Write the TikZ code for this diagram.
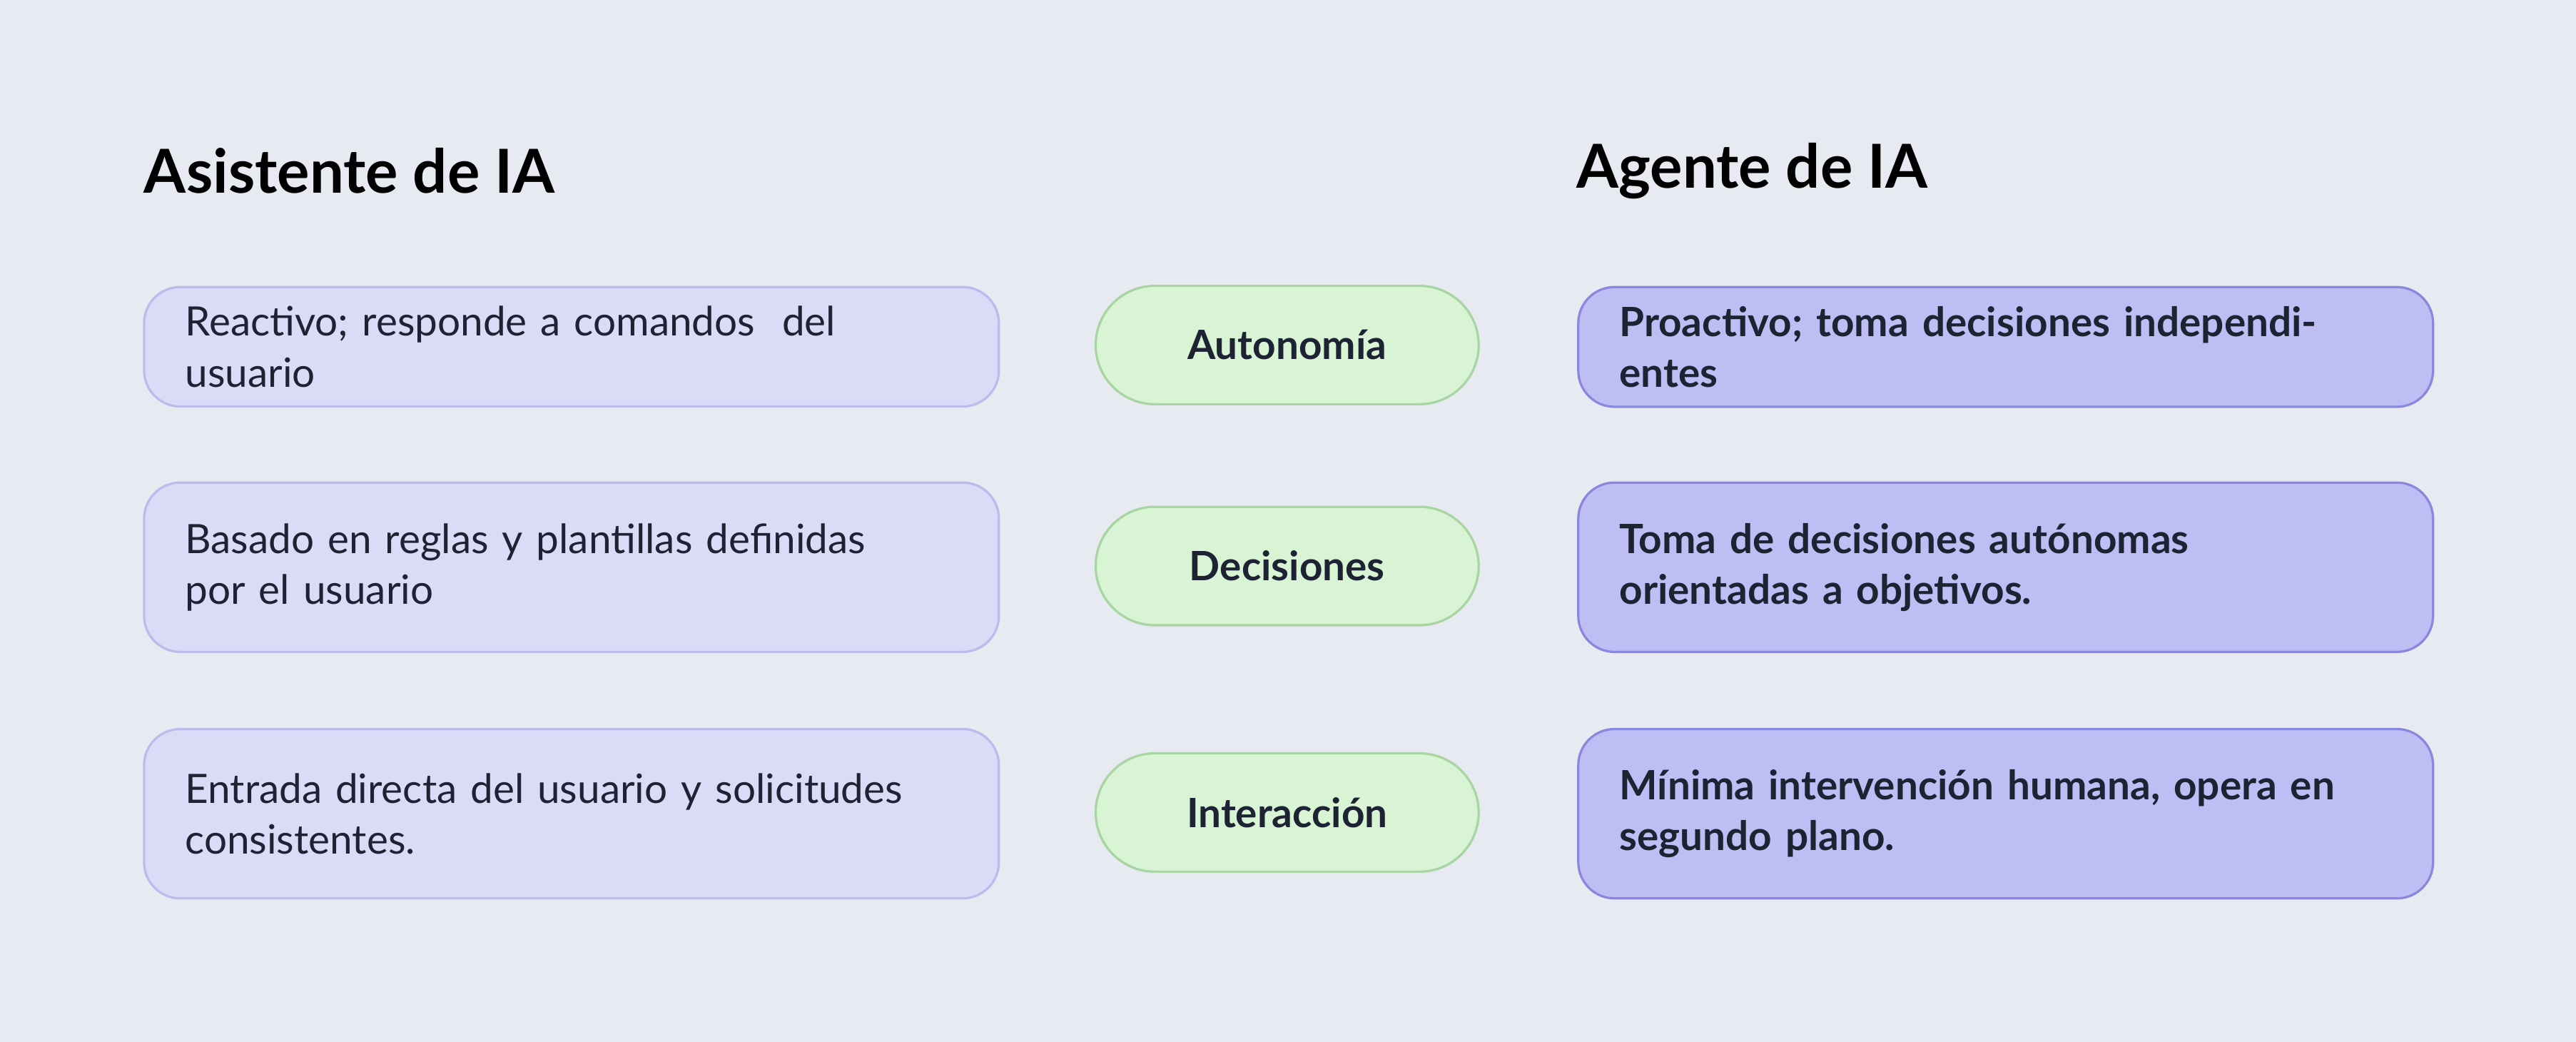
\documentclass[tikz,border=0pt]{standalone}
\usepackage{fontspec}
\setmainfont{Lato}
\usetikzlibrary{positioning}
\definecolor{bg}{HTML}{E8EAF1}
\definecolor{asfill}{HTML}{DCDBF7}
\definecolor{asline}{HTML}{BDBBEB}
\definecolor{agfill}{HTML}{BEBDF4}
\definecolor{agline}{HTML}{8A88DE}
\definecolor{pillfill}{HTML}{D9F4D5}
\definecolor{pillline}{HTML}{A8D5A2}
\definecolor{ink}{HTML}{1E2333}
\tikzset{
  asbox/.style={draw=asline, fill=asfill, rounded corners=2.2mm, line width=0.4pt,
    anchor=north west, minimum width=5.2cm, text width=4.7cm, align=left,
    font=\fontsize{7}{8.8}\selectfont, text=ink, inner xsep=2.5mm},
  agbox/.style={asbox, draw=agline, fill=agfill, font=\fontsize{7}{8.8}\selectfont\bfseries},
  pill/.style={draw=pillline, fill=pillfill, rounded corners=3.6mm, line width=0.4pt,
    minimum width=2.33cm, minimum height=0.72cm, font=\fontsize{7}{8.8}\selectfont\bfseries, text=ink},
  heading/.style={anchor=west, font=\fontsize{10.5}{12}\selectfont\bfseries, text=black, inner sep=0pt}
}
\begin{document}
\begin{tikzpicture}[x=0.01cm, y=0.01cm]
  \fill[bg] (0,0) rectangle (1568,634);
  \useasboundingbox (0,0) rectangle (1568,634);

  \node[heading] (astitle) at (87,530) {Asistente de IA};
  \node[heading] (agtitle) at (959,530) {Agente de IA};

  % asistente
  \node[asbox, minimum height=0.72cm] (as1) at (87,460) {Reactivo; responde a comandos\ \ del usuario};
  \node[asbox, minimum height=1.03cm] (as2) at (87,341) {Basado en reglas y plantillas definidas\\por el usuario};
  \node[asbox, minimum height=1.03cm] (as3) at (87,191) {Entrada directa del usuario y solicitudes\\consistentes.};

  % criterios
  \node[pill] (p1) at (783.5,424) {Autonomía};
  \node[pill] (p2) at (783.5,289.5) {Decisiones};
  \node[pill] (p3) at (783.5,139.5) {Interacción};

  % agente
  \node[agbox, minimum height=0.72cm] (ag1) at (960,460) {Proactivo; toma decisiones independientes};
  \node[agbox, minimum height=1.03cm] (ag2) at (960,341) {Toma de decisiones autónomas\\orientadas a objetivos.};
  \node[agbox, minimum height=1.03cm] (ag3) at (960,191) {Mínima intervención humana, opera en\\segundo plano.};
\end{tikzpicture}
\end{document}
